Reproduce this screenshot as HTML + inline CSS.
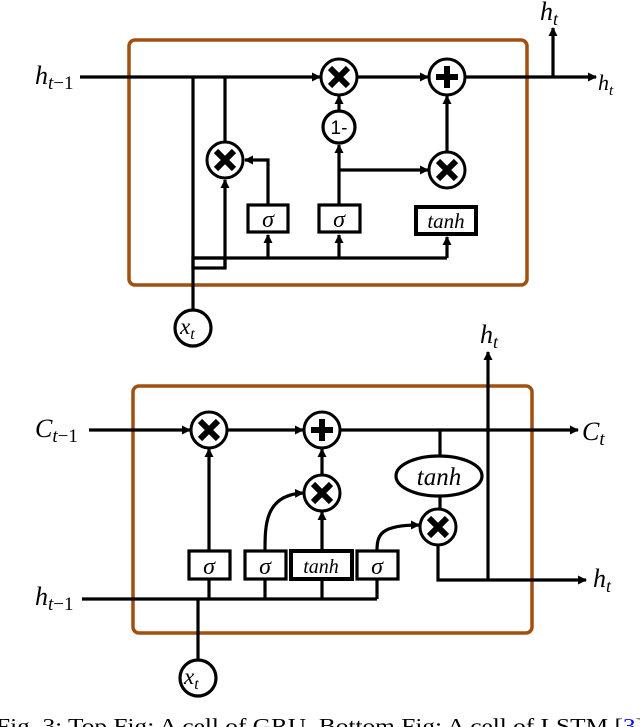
<!DOCTYPE html>
<html><head><meta charset="utf-8"><style>
html,body{margin:0;padding:0;background:#fff;width:640px;height:727px;overflow:hidden}
svg{display:block}
.m{font-family:"Liberation Serif",serif;font-style:italic}
</style></head><body>
<svg width="640" height="727" viewBox="0 0 640 727" xmlns="http://www.w3.org/2000/svg">
<defs>
<marker id="a" markerWidth="9" markerHeight="9" refX="8" refY="4.5" orient="auto" markerUnits="userSpaceOnUse"><path d="M0,0 L9,4.5 L0,9 Z" fill="#000"/></marker>
<g id="x"><circle r="18" fill="#fff" stroke="#000" stroke-width="3"/><path d="M-9,-9 L9,9 M9,-9 L-9,9" stroke="#000" stroke-width="6"/></g>
<g id="p"><circle r="18" fill="#fff" stroke="#000" stroke-width="3"/><path d="M-11,0 H11 M0,-11 V11" stroke="#000" stroke-width="6"/></g>
</defs>
<g stroke="#000" stroke-width="3.2" fill="none">
<!-- TOP GRU -->
<rect x="129" y="40" width="398" height="245" rx="6" stroke="#a0500f" stroke-width="3.5"/>
<line x1="80" y1="77" x2="320" y2="77" marker-end="url(#a)"/>
<line x1="358" y1="77" x2="428" y2="77" marker-end="url(#a)"/>
<line x1="466" y1="77" x2="596" y2="77" marker-end="url(#a)"/>
<line x1="553" y1="77" x2="553" y2="28" marker-end="url(#a)"/>
<line x1="193" y1="77" x2="193" y2="310"/>
<line x1="225" y1="77" x2="225" y2="142"/>
<line x1="225" y1="268" x2="225" y2="180" marker-end="url(#a)"/>
<rect x="193" y="258" width="32" height="10"/>
<line x1="193" y1="258" x2="447" y2="258"/>
<line x1="268" y1="258" x2="268" y2="235" marker-end="url(#a)"/>
<line x1="339" y1="258" x2="339" y2="235" marker-end="url(#a)"/>
<line x1="447" y1="258" x2="447" y2="237" marker-end="url(#a)"/>
<polyline points="268,205 268,160 245,160" marker-end="url(#a)"/>
<line x1="339" y1="205" x2="339" y2="145" marker-end="url(#a)"/>
<line x1="339" y1="111" x2="339" y2="96" marker-end="url(#a)"/>
<line x1="339" y1="170" x2="428" y2="170" marker-end="url(#a)"/>
<line x1="447" y1="152" x2="447" y2="96" marker-end="url(#a)"/>
<rect x="248" y="205" width="40" height="27" fill="#fff"/>
<rect x="319" y="205" width="41" height="27" fill="#fff"/>
<rect x="416" y="207" width="60" height="27" fill="#fff" stroke-width="4"/>
<circle cx="339" cy="127" r="16" fill="#fff"/>
<circle cx="193" cy="328" r="18" fill="#fff"/>
<!-- BOTTOM LSTM -->
<rect x="133" y="386" width="399" height="247" rx="6" stroke="#a0500f" stroke-width="3.5"/>
<line x1="89" y1="430" x2="190" y2="430" marker-end="url(#a)"/>
<line x1="227" y1="430" x2="303" y2="430" marker-end="url(#a)"/>
<line x1="340" y1="430" x2="578" y2="430" marker-end="url(#a)"/>
<line x1="488" y1="580" x2="488" y2="352" marker-end="url(#a)"/>
<line x1="440" y1="430" x2="440" y2="456"/>
<line x1="440" y1="496" x2="440" y2="510"/>
<polyline points="438,545 438,580 586,580" marker-end="url(#a)"/>
<line x1="82" y1="599" x2="377" y2="599"/>
<line x1="198" y1="599" x2="198" y2="662"/>
<line x1="209" y1="599" x2="209" y2="579"/>
<line x1="265" y1="599" x2="265" y2="579"/>
<line x1="322" y1="599" x2="322" y2="579"/>
<line x1="377" y1="599" x2="377" y2="579"/>
<line x1="209" y1="551" x2="209" y2="449" marker-end="url(#a)"/>
<path d="M265,551 C265,525 265,495 303,493" marker-end="url(#a)"/>
<line x1="322" y1="551" x2="322" y2="512" marker-end="url(#a)"/>
<line x1="322" y1="475" x2="322" y2="449" marker-end="url(#a)"/>
<path d="M377,551 C377,535 380,525 419,525" marker-end="url(#a)"/>
<rect x="189" y="551" width="41" height="28" fill="#fff"/>
<rect x="245" y="551" width="41" height="28" fill="#fff"/>
<rect x="291" y="551" width="61" height="28" fill="#fff" stroke-width="4"/>
<rect x="357" y="551" width="41" height="28" fill="#fff"/>
<ellipse cx="439" cy="476" rx="43" ry="20" fill="#fff"/>
<circle cx="198" cy="678" r="18" fill="#fff"/>
</g>
<use href="#x" x="339" y="77"/><use href="#p" x="447" y="77"/>
<use href="#x" x="225" y="160"/><use href="#x" x="447" y="170"/>
<use href="#x" x="209" y="430"/><use href="#p" x="322" y="430"/>
<use href="#x" x="322" y="493"/><use href="#x" x="438" y="527"/>
<circle cx="488" cy="430" r="2.5" fill="#000"/>
<g class="m" font-size="26" fill="#000">
<text x="35" y="84">h<tspan font-size="19" dy="5">t</tspan><tspan font-size="19" font-style="normal">−1</tspan></text>
<text x="598" y="90" font-size="22">h<tspan font-size="15" dy="5">t</tspan></text>
<text x="540" y="20">h<tspan font-size="18" dy="5">t</tspan></text>
<text x="339" y="134" font-size="19" font-style="normal" text-anchor="middle" font-family="Liberation Sans">1-</text>
<text x="268" y="227" text-anchor="middle" font-size="24">σ</text>
<text x="339" y="227" text-anchor="middle" font-size="24">σ</text>
<text x="446" y="228" text-anchor="middle" font-size="21">tanh</text>
<text x="180" y="334" font-size="23">x<tspan font-size="16" dy="5">t</tspan></text>
<text x="35" y="437">C<tspan font-size="19" dy="5">t</tspan><tspan font-size="19" font-style="normal">−1</tspan></text>
<text x="582" y="440">C<tspan font-size="19" dy="5">t</tspan></text>
<text x="480" y="343">h<tspan font-size="18" dy="5">t</tspan></text>
<text x="593" y="587">h<tspan font-size="18" dy="5">t</tspan></text>
<text x="35" y="605">h<tspan font-size="19" dy="5">t</tspan><tspan font-size="19" font-style="normal">−1</tspan></text>
<text x="209" y="574" text-anchor="middle" font-size="24">σ</text>
<text x="265" y="574" text-anchor="middle" font-size="24">σ</text>
<text x="321" y="573" text-anchor="middle" font-size="20">tanh</text>
<text x="377" y="574" text-anchor="middle" font-size="24">σ</text>
<text x="439" y="485" text-anchor="middle" font-size="25">tanh</text>
<text x="184" y="684" font-size="23">x<tspan font-size="16" dy="5">t</tspan></text>
</g>
<text x="-4" y="733" font-family="Liberation Serif,serif" font-size="21" textLength="648" lengthAdjust="spacingAndGlyphs">Fig. 3: Top Fig: A cell of GRU, Bottom Fig: A cell of LSTM [<tspan fill="#00f">3</tspan>]</text>
</svg>
</body></html>
